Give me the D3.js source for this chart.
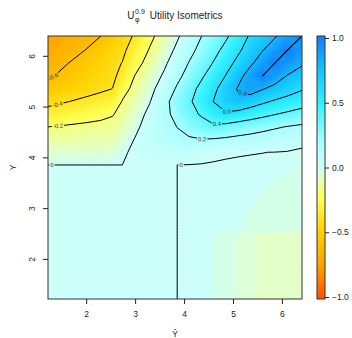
<!DOCTYPE html>
<html>
<head>
<meta charset="utf-8">
<script src="https://cdn.jsdelivr.net/npm/d3@7"></script>
<style>
  html, body { margin: 0; padding: 0; background: #fff; }
  svg { display: block; font-family: "Liberation Sans", Arial, Helvetica, sans-serif; }
</style>
</head>
<body>
<svg id="chart" width="352" height="338"></svg>
<script>
// Grid of the utility surface U(yhat, y): columns are predicted values (yhat),
// rows are true values (y), listed from the lowest y upwards.
const yhatNodes = [1.22, 1.6, 2.0, 2.3, 2.54, 2.74, 3.0, 3.3, 3.6, 3.86, 4.1, 4.36, 4.6, 4.85, 5.1, 5.35, 5.6, 5.85, 6.1, 6.41];
const yNodes    = [1.21, 2.50, 2.56, 3.2, 3.85, 4.1, 4.36, 4.6, 4.85, 5.1, 5.35, 5.6, 5.85, 6.1, 6.39];

const utility = [
  /* y=1.21 */ [0, 0, 0, 0, 0, 0, 0, 0, 0, 0, -0.003, -0.006, -0.013, -0.02, -0.042, -0.05, -0.075, -0.078, -0.08, -0.085],
  /* y=2.50 */ [0, 0, 0, 0, 0, 0, 0, 0, 0, 0, -0.003, -0.006, -0.013, -0.02, -0.042, -0.05, -0.075, -0.078, -0.08, -0.085],
  /* y=2.56 */ [0, 0, 0, 0, 0, 0, 0, 0, 0, 0, -0.002, -0.004, -0.006, -0.009, -0.012, -0.016, -0.02, -0.024, -0.028, -0.032],
  /* y=3.20 */ [0, 0, 0, 0, 0, 0, 0, 0, 0, 0, -0.002, -0.003, -0.005, -0.007, -0.009, -0.011, -0.014, -0.017, -0.02, -0.023],
  /* y=3.85 */ [0, 0, 0, 0, 0, 0, 0, 0, 0, 0, -0.002, -0.003, -0.004, -0.005, -0.006, -0.007, -0.008, -0.009, -0.010, -0.013],
  /* y=4.10 */ [-0.067, -0.063, -0.059, -0.056, -0.053, -0.015, 0.02, 0.035, 0.05, 0.065, 0.075, 0.03, 0.012, 0.006, 0.0035, 0.002, 0.0007, -0.001, -0.006, -0.025],
  /* y=4.36 */ [-0.136, -0.128, -0.12, -0.113, -0.107, -0.058, 0.005, 0.07, 0.12, 0.16, 0.185, 0.20, 0.195, 0.18, 0.16, 0.145, 0.125, 0.105, 0.085, 0.055],
  /* y=4.60 */ [-0.20, -0.183, -0.168, -0.158, -0.15, -0.10, -0.026, 0.055, 0.134, 0.203, 0.257, 0.316, 0.37, 0.34, 0.31, 0.28, 0.25, 0.22, 0.194, 0.17],
  /* y=4.85 */ [-0.332, -0.30, -0.265, -0.24, -0.21, -0.147, -0.066, 0.036, 0.156, 0.252, 0.334, 0.423, 0.50, 0.58, 0.537, 0.493, 0.45, 0.407, 0.37, 0.326],
  /* y=5.10 */ [-0.446, -0.406, -0.366, -0.335, -0.311, -0.19, -0.105, -0.007, 0.156, 0.273, 0.371, 0.49, 0.603, 0.682, 0.76, 0.697, 0.633, 0.579, 0.536, 0.483],
  /* y=5.35 */ [-0.542, -0.501, -0.458, -0.426, -0.398, -0.267, -0.147, -0.047, 0.086, 0.223, 0.332, 0.45, 0.559, 0.686, 0.812, 0.89, 0.812, 0.75, 0.69, 0.617],
  /* y=5.60 */ [-0.62, -0.56, -0.498, -0.452, -0.43, -0.35, -0.193, -0.088, 0.025, 0.155, 0.265, 0.378, 0.488, 0.606, 0.744, 0.875, 1.0, 0.894, 0.793, 0.72],
  /* y=5.85 */ [-0.66, -0.605, -0.535, -0.48, -0.435, -0.395, -0.26, -0.135, -0.025, 0.093, 0.208, 0.312, 0.41, 0.529, 0.649, 0.771, 0.886, 1.0, 0.92, 0.82],
  /* y=6.10 */ [-0.70, -0.645, -0.595, -0.52, -0.46, -0.43, -0.32, -0.185, -0.07, 0.033, 0.148, 0.257, 0.347, 0.452, 0.571, 0.684, 0.796, 0.898, 1.0, 0.90],
  /* y=6.39 */ [-0.75, -0.70, -0.64, -0.60, -0.53, -0.47, -0.38, -0.24, -0.12, -0.02, 0.08, 0.20, 0.28, 0.37, 0.49, 0.62, 0.70, 0.78, 0.88, 1.0]
];

// Isometric (contour) levels and their printed labels; level 1 is the ridge of maximum utility
const lineLevels  = [-0.6, -0.4, -0.2, 0, 0.2, 0.4, 0.6, 0.8];
const lineLabels  = ["-0.6", "-0.4", "-0.2", "0", "0.2", "0.4", "0.6", "0.8"];
const ridgeLevel  = 1;

// Axis ticks
const xTicks = [2, 3, 4, 5, 6];
const yTicks = [2, 3, 4, 5, 6];
const keyTicks = [-1, -0.5, 0, 0.5, 1];
const keyTickLabels = ["\u22121.0", "\u22120.5", "0.0", "0.5", "1.0"];

// ---------------------------------------------------------------------------
const svg = d3.select("#chart");
const plot = { left: 48, right: 302, top: 36, bottom: 299 };
const key = { left: 317, right: 325, top: 36, bottom: 299, lo: 297, hi: 38 };
const FONT = "\"Liberation Sans\", Arial, Helvetica, sans-serif";

const x = d3.scaleLinear()
  .domain([yhatNodes[0], yhatNodes[yhatNodes.length - 1]])
  .range([plot.left, plot.right]);
const y = d3.scaleLinear()
  .domain([yNodes[0], yNodes[yNodes.length - 1]])
  .range([plot.bottom, plot.top]);

// diverging palette: orange (costs) - pale cyan (neutral) - blue (benefits)
const palette = d3.scaleLinear()
  .domain([-1, -0.75, -0.5, -0.25, -0.075, 0, 0.2, 0.5, 0.75, 1])
  .range(["#ff5500", "#ffa200", "#ffd000", "#ffff50", "#e2ffc8", "#ccfffa", "#a8ffff", "#30f0ff", "#14c4ff", "#1080ff"])
  .interpolate(d3.interpolateRgb)
  .clamp(true);

const nx = yhatNodes.length, ny = yNodes.length;
const flat = utility.flat();

// grid index (possibly fractional, possibly just outside) -> data value
function nodeAt(nodes, u) {
  const n = nodes.length;
  if (u <= 0) return nodes[0] + u * (nodes[1] - nodes[0]);
  if (u >= n - 1) return nodes[n - 1] + (u - n + 1) * (nodes[n - 1] - nodes[n - 2]);
  const i = Math.floor(u), f = u - i;
  return nodes[i] + f * (nodes[i + 1] - nodes[i]);
}
function toPx(p) {
  return [x(nodeAt(yhatNodes, p[0] - 0.5)), y(nodeAt(yNodes, p[1] - 0.5))];
}
function geomPath(g) {
  return g.coordinates.map(poly => poly.map(ring =>
    "M" + ring.map(p => toPx(p).map(v => v.toFixed(2)).join(",")).join("L") + "Z"
  ).join("")).join("");
}

const defs = svg.append("defs");
defs.append("clipPath").attr("id", "plotClip")
  .append("rect")
  .attr("x", plot.left).attr("y", plot.top)
  .attr("width", plot.right - plot.left).attr("height", plot.bottom - plot.top);

// ---- filled surface, many thin bands ----
const bandStep = 0.025;
const bandThresholds = d3.range(0, 82).map(k => -1.0125 + k * bandStep);
const fillG = svg.append("g").attr("clip-path", "url(#plotClip)");
fillG.append("rect")
  .attr("x", plot.left).attr("y", plot.top)
  .attr("width", plot.right - plot.left).attr("height", plot.bottom - plot.top)
  .attr("fill", palette(-1));
const bands = d3.contours().size([nx, ny]).thresholds(bandThresholds)(flat);
fillG.selectAll("path").data(bands).join("path")
  .attr("d", geomPath)
  .attr("fill-rule", "evenodd")
  .attr("fill", d => palette(Math.min(1, d.value + bandStep / 2)));

// ---- isometric lines with inline labels ----
const isolines = d3.contours().size([nx, ny]).thresholds(lineLevels)(flat);

// ridge: grid nodes where the utility reaches its top level
const ridgePts = [];
utility.forEach((row, j) => row.forEach((v, i) => {
  if (v >= ridgeLevel) ridgePts.push([yhatNodes[i], yNodes[j]]);
}));
ridgePts.sort((a, b) => a[0] - b[0]);

// label anchors (data units) near which each level's label sits
const labelAnchors = [
  { level: -0.6, at: [1.36, 5.52] },
  { level: -0.4, at: [1.42, 5.02] },
  { level: -0.2, at: [1.42, 4.64] },
  { level: 0,    at: [1.30, 3.85] },
  { level: 0,    at: [3.94, 3.86] },
  { level: 0.2,  at: [4.37, 4.37] },
  { level: 0.4,  at: [4.67, 4.65] },
  { level: 0.6,  at: [4.88, 4.88] },
  { level: 0.8,  at: [5.17, 5.16] }
];

function nearestOnLevel(level, px, py) {
  const c = isolines[lineLevels.indexOf(level)];
  let best = null;
  const inside = q => q[0] >= plot.left && q[0] <= plot.right && q[1] >= plot.top && q[1] <= plot.bottom;
  c.coordinates.forEach(poly => poly.forEach(ring => {
    const pts = ring.map(toPx);
    for (let i = 0; i < pts.length - 1; i++) {
      const [ax, ay] = pts[i], [bx, by] = pts[i + 1];
      if (!inside(pts[i]) || !inside(pts[i + 1])) continue;
      const dx = bx - ax, dy = by - ay, L2 = dx * dx + dy * dy;
      if (L2 < 1e-9) continue;
      let t = ((px - ax) * dx + (py - ay) * dy) / L2;
      t = Math.max(0, Math.min(1, t));
      const qx = ax + t * dx, qy = ay + t * dy;
      const dist = Math.hypot(px - qx, py - qy);
      if (!best || dist < best.dist) {
        let ang = Math.atan2(dy, dx) * 180 / Math.PI;
        if (ang > 90) ang -= 180;
        if (ang < -90) ang += 180;
        best = { x: qx, y: qy, ang, dist };
      }
    }
  }));
  return best;
}

const mask = defs.append("mask").attr("id", "labelGaps")
  .attr("maskUnits", "userSpaceOnUse")
  .attr("x", 0).attr("y", 0).attr("width", 352).attr("height", 338);
mask.append("rect").attr("x", 0).attr("y", 0).attr("width", 352).attr("height", 338).attr("fill", "#fff");

const lineG = svg.append("g").attr("clip-path", "url(#plotClip)")
  .append("g").attr("mask", "url(#labelGaps)");
lineG.selectAll("path.iso").data(isolines).join("path")
  .attr("class", "iso")
  .attr("d", geomPath)
  .attr("fill", "none")
  .attr("stroke", "#000")
  .attr("stroke-width", 1)
  .attr("stroke-linejoin", "round");
lineG.append("path")
  .attr("d", d3.line().x(d => x(d[0])).y(d => y(d[1]))(ridgePts))
  .attr("fill", "none")
  .attr("stroke", "#000")
  .attr("stroke-width", 1.2)
  .attr("stroke-linecap", "butt");

const labelG = svg.append("g");
labelAnchors.forEach(a => {
  const spot = nearestOnLevel(a.level, x(a.at[0]), y(a.at[1]));
  if (!spot) return;
  const txt = lineLabels[lineLevels.indexOf(a.level)];
  const t = labelG.append("text")
    .attr("transform", `translate(${spot.x},${spot.y}) rotate(${spot.ang})`)
    .attr("text-anchor", "middle")
    .attr("dy", "0.35em")
    .attr("font-size", 6)
    .attr("font-family", FONT)
    .attr("fill", "#333")
    .text(txt);
  const w = t.node().getComputedTextLength() + 2;
  mask.append("rect")
    .attr("x", -w / 2).attr("y", -3.2).attr("width", w).attr("height", 6.4)
    .attr("transform", `translate(${spot.x},${spot.y}) rotate(${spot.ang})`)
    .attr("fill", "#000");
});

// ---- frame and axes ----
svg.append("rect")
  .attr("x", plot.left).attr("y", plot.top)
  .attr("width", plot.right - plot.left).attr("height", plot.bottom - plot.top)
  .attr("fill", "none").attr("stroke", "#333").attr("stroke-width", 1);

const xAxis = d3.axisBottom(x).tickValues(xTicks).tickSize(5).tickPadding(6.5).tickFormat(d3.format("d"));
svg.append("g").attr("transform", `translate(0,${plot.bottom})`).call(xAxis)
  .call(g => g.select(".domain").remove())
  .call(g => g.selectAll("line").attr("stroke", "#222"))
  .call(g => g.selectAll("text").attr("font-size", 8.5).attr("font-family", FONT).attr("fill", "#222"));

const yAxis = d3.axisLeft(y).tickValues(yTicks).tickSize(5).tickFormat(d3.format("d"));
svg.append("g").attr("transform", `translate(${plot.left},0)`).call(yAxis)
  .call(g => g.select(".domain").remove())
  .call(g => g.selectAll("line").attr("stroke", "#222"))
  .call(g => g.selectAll("text")
    .attr("x", 0).attr("dy", 0)
    .attr("text-anchor", "middle")
    .attr("transform", "translate(-13.5,0) rotate(-90)")
    .attr("font-size", 8.5).attr("font-family", FONT).attr("fill", "#222"));

svg.append("text")
  .attr("x", (plot.left + plot.right) / 2).attr("y", 336.5)
  .attr("text-anchor", "middle")
  .attr("font-size", 8.5).attr("font-family", FONT).attr("fill", "#222")
  .text("\u0176");

svg.append("text")
  .attr("transform", `translate(15.5,${(plot.top + plot.bottom) / 2}) rotate(-90)`)
  .attr("text-anchor", "middle")
  .attr("font-size", 8.5).attr("font-family", FONT).attr("fill", "#222")
  .text("Y");

// ---- title: U with subscript phi and superscript 0.9 ----
const titleG = svg.append("g").attr("font-family", FONT).attr("fill", "#222");
const tU = titleG.append("text").attr("font-size", 10).attr("y", 18.5).text("U");
const tSup = titleG.append("text").attr("font-size", 7).attr("y", 14).text("0.9");
const tSub = titleG.append("text").attr("font-size", 7).attr("y", 21.5).text("\u03c6");
const tMain = titleG.append("text").attr("font-size", 10).attr("y", 18.5).text("Utility Isometrics");
const wU = tU.node().getComputedTextLength();
const wScript = Math.max(tSup.node().getComputedTextLength(), tSub.node().getComputedTextLength());
const gap = 5;
const wMain = tMain.node().getComputedTextLength();
const total = wU + 0.5 + wScript + gap + wMain;
const x0 = (plot.left + plot.right) / 2 - total / 2;
tU.attr("x", x0);
tSup.attr("x", x0 + wU + 0.5);
tSub.attr("x", x0 + wU + 0.5);
tMain.attr("x", x0 + wU + 0.5 + wScript + gap);

// ---- colour key ----
const k = d3.scaleLinear().domain([-1, 1]).range([key.lo, key.hi]);
const keyG = svg.append("g");
const kTop = key.top, kBot = key.bottom;
keyG.selectAll("rect.slice").data(d3.range(0, kBot - kTop)).join("rect")
  .attr("class", "slice")
  .attr("x", key.left).attr("width", key.right - key.left)
  .attr("y", i => kTop + i).attr("height", 1.05)
  .attr("fill", i => palette(k.invert(kTop + i + 0.5)));
keyG.append("rect")
  .attr("x", key.left).attr("y", kTop)
  .attr("width", key.right - key.left).attr("height", kBot - kTop)
  .attr("fill", "none").attr("stroke", "#333").attr("stroke-width", 1);
const keyAxis = d3.axisRight(k).tickValues(keyTicks).tickSize(4).tickPadding(3)
  .tickFormat((d, i) => keyTickLabels[i]);
keyG.append("g").attr("transform", `translate(${key.right},0)`).call(keyAxis)
  .call(g => g.select(".domain").remove())
  .call(g => g.selectAll("line").attr("stroke", "#222"))
  .call(g => g.selectAll("text").attr("font-size", 8.5).attr("font-family", FONT).attr("fill", "#222"));
</script>
</body>
</html>
